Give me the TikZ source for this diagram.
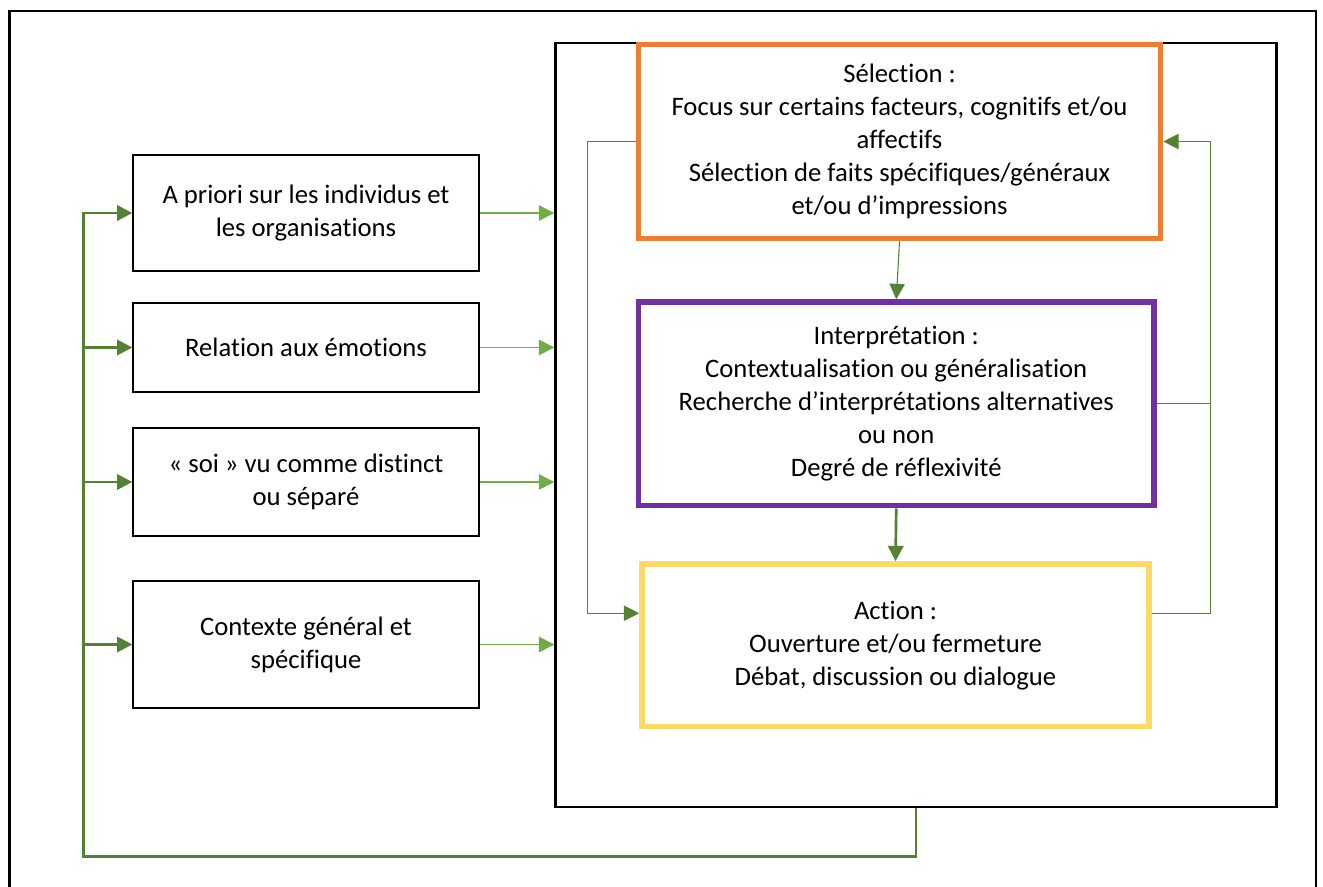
\documentclass[tikz,border=0pt]{standalone}
\usepackage{fontspec}
\setmainfont{Carlito}[Ligatures = NoCommon]
\usetikzlibrary{arrows.meta,calc}
\definecolor{phaseorange}{HTML}{ED7D31}
\definecolor{phasepurple}{HTML}{7030A0}
\definecolor{phaseyellow}{HTML}{FFD966}
\definecolor{darkgreen}{HTML}{548235}
\definecolor{lightgreen}{HTML}{70AD47}
\begin{document}
\begin{tikzpicture}[x = .75pt, y = -.75pt,
    every node/.style = {font = \fontsize{20}{24.8}\selectfont, align = center, inner sep = 0pt},
    factor/.style = {draw, line width = 1pt, minimum width = 259.5pt},
    phase/.style = {draw, line width = 4.2pt},
    tip/.style = {-{Triangle[length = 11.5pt, width = 11.5pt]}},
    feed/.style = {darkgreen, line width = .8pt},
    loopline/.style = {darkgreen, line width = 2pt},
    inarrow/.style = {lightgreen, line width = 1.1pt, tip}]
      \useasboundingbox (0,0) rectangle (1323,887);
      \clip (0,0) rectangle (1323,887);
      \draw [line width = 1.8pt] (9.5,11) rectangle (1316,900);
      \node [factor, minimum height = 87pt] (apriori) at (306,213) {A priori sur les individus et\\les organisations};
      \node [factor, minimum height = 66.75pt] (emo) at (306,347.5) {Relation aux émotions};
      \node [factor, minimum height = 81pt] (soi) at (306,482) {« soi » vu comme distinct\\ou séparé};
      \node [factor, minimum height = 95.25pt] (ctx) at (306,644.5) {Contexte général et\\spécifique};
      \node [draw, line width = 1.8pt, minimum width = 540.75pt, minimum height = 573pt] (cycle) at (916,425) {};
      \node [phase, draw = phaseorange, minimum width = 391.5pt, minimum height = 145.5pt] (sel) at (899.5,141.5) {Sélection :\\Focus sur certains facteurs, cognitifs et/ou\\affectifs\\Sélection de faits spécifiques/généraux\\et/ou d’impressions};
      \node [phase, draw = phasepurple, minimum width = 386.6pt, minimum height = 152.6pt] (int) at (896.25,403.75) {Interprétation :\\Contextualisation ou généralisation\\Recherche d’interprétations alternatives\\ou non\\Degré de réflexivité};
      \node [phase, draw = phaseyellow, minimum width = 380.25pt, minimum height = 121.9pt] (act) at (895.5,645.25) {Action :\\Ouverture et/ou fermeture\\Débat, discussion ou dialogue};
      \foreach \n in {apriori, emo, soi, ctx}
        \draw [inarrow] (\n.east) -- (\n.east -| cycle.west);
      \draw [feed, tip] (sel.south) -- (int.north);
      \draw [darkgreen, line width = 2pt, tip] (int.south) -- (act.north);
      \draw [feed, tip] (sel.west) --++ (-48,0) |- ($(act.west)+(0,-32)$);
      \draw [feed, tip] ($(act.east)+(0,-32)$) --++ (59,0) |- (sel.east);
      \draw [feed] (int.east) --++ (54,0);
      \draw [loopline, tip] (cycle.south) --++ (0,48) -| ($(apriori.west)+(-49,0)$) -- (apriori.west);
      \foreach \n in {emo, soi, ctx}
        \draw [loopline, tip] (\n.west) ++ (-49,0) -- (\n.west);
\end{tikzpicture}
\end{document}
